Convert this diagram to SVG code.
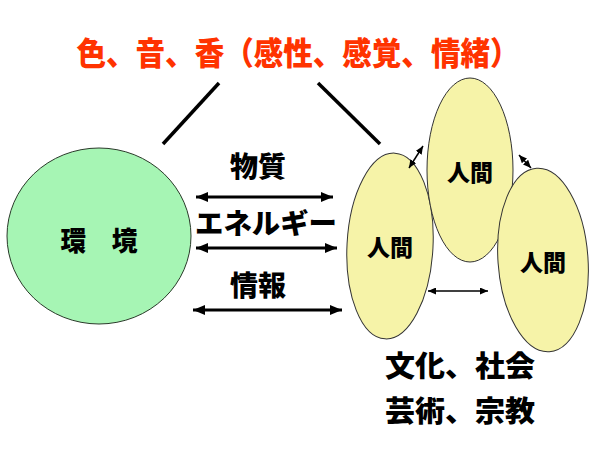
<svg xmlns="http://www.w3.org/2000/svg" width="600" height="450" viewBox="0 0 600 450">
<style>
.t{font-family:"Noto Sans CJK JP","Noto Sans CJK SC",sans-serif;font-weight:900;text-anchor:middle;fill:#000}
.title{fill:#ff3300;font-size:32px}
.env{fill:#a6f5b4;stroke:#2a3a2a;stroke-width:1}
.hum{fill:#f6f3a8;stroke:#333;stroke-width:1}
.big{stroke:#000;stroke-width:3;fill:none;marker-start:url(#ah);marker-end:url(#ah)}
.sm{stroke:#000;stroke-width:1.5;fill:none;marker-start:url(#as);marker-end:url(#as)}
.ln{stroke:#000;stroke-width:3.5}
</style>
<defs>
<marker id="ah" viewBox="0 0 12 10" refX="12" refY="5" markerWidth="12" markerHeight="10" markerUnits="userSpaceOnUse" orient="auto-start-reverse"><path d="M0,0 L12,5 L0,10 z" fill="#000"/></marker>
<marker id="as" viewBox="0 0 8 7" refX="8" refY="3.5" markerWidth="8" markerHeight="7" markerUnits="userSpaceOnUse" orient="auto-start-reverse"><path d="M0,0 L8,3.5 L0,7 z" fill="#000"/></marker>
</defs>
<rect width="600" height="450" fill="#fff"/>
<text id="title" class="t title" x="298" y="65" textLength="443" lengthAdjust="spacingAndGlyphs">色、音、香（感性、感覚、情緒）</text>
<g id="env"><ellipse class="env" cx="99" cy="236" rx="92" ry="88"/><text class="t" x="99" y="251" font-size="27" textLength="77" lengthAdjust="spacingAndGlyphs">環　境</text></g>
<g id="human-left"><ellipse class="hum" cx="390" cy="246" rx="43" ry="93" transform="rotate(3 390 246)"/><text class="t" x="390" y="256" font-size="23">人間</text></g>
<g id="human-top"><ellipse class="hum" cx="470" cy="170" rx="43" ry="92"/><text class="t" x="470" y="181" font-size="23">人間</text></g>
<g id="human-right"><ellipse class="hum" cx="543" cy="260" rx="45" ry="92" transform="rotate(-4 543 260)"/><text class="t" x="543" y="271" font-size="23">人間</text></g>
<g id="connectors">
<line class="ln" x1="219" y1="83" x2="163" y2="144"/>
<line class="ln" x1="318" y1="83" x2="380" y2="144"/>
<line class="big" x1="196" y1="197" x2="333" y2="197"/>
<line class="big" x1="196" y1="248" x2="337" y2="248"/>
<line class="big" x1="193" y1="310" x2="342" y2="310"/>
<line class="sm" x1="409" y1="168" x2="423" y2="146"/>
<line class="sm" x1="519" y1="155" x2="531" y2="168"/>
<line class="sm" x1="428" y1="291" x2="488" y2="291"/>
</g>
<text class="t" x="258" y="177" font-size="28">物質</text>
<text class="t" x="266" y="234" font-size="28" textLength="142" lengthAdjust="spacingAndGlyphs">エネルギー</text>
<text class="t" x="258" y="296" font-size="28">情報</text>
<text class="t" x="460" y="377" font-size="29" textLength="150" lengthAdjust="spacingAndGlyphs">文化、社会</text>
<text class="t" x="460" y="422" font-size="29" textLength="150" lengthAdjust="spacingAndGlyphs">芸術、宗教</text>
</svg>
